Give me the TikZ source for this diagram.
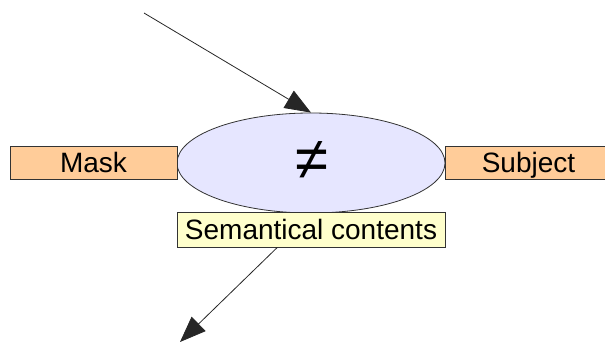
\documentclass[tikz,border=0pt]{standalone}
\usepackage{fontspec}
\setmainfont{Liberation Sans}
\usetikzlibrary{shapes.geometric,arrows.meta}
\definecolor{peach}{HTML}{FFCC99}
\definecolor{lilac}{HTML}{E6E6FF}
\definecolor{paleyellow}{HTML}{FFFFCC}
\definecolor{edge}{HTML}{333333}
\tikzset{
  box/.style={draw=edge,line width=0.8pt,rectangle,inner sep=0pt,font=\fontsize{28}{30}\selectfont,text height=20pt,text depth=0pt},
  sidebox/.style={box,fill=peach,minimum width=167pt,minimum height=33pt},
  conn/.style={draw=black!85,line width=0.8pt,-{Triangle[length=26pt,width=20pt]}}
}
\begin{document}
\begin{tikzpicture}[x=1pt,y=-1pt]
\useasboundingbox (0,0) rectangle (605,343);
\clip (0,0) rectangle (605,343);
\node[ellipse,draw=edge,line width=0.8pt,fill=lilac,minimum width=268pt,minimum height=100pt,inner sep=0pt] (eq) at (311,163) {};
\node[font=\fontsize{60}{60}\selectfont,inner sep=0pt] (neq) at (312,161) {≠};
\node[sidebox] (mask) at (93.5,162.5) {Mask};
\node[sidebox] (subject) at (528.5,162.5) {Subject};
\node[box,fill=paleyellow,minimum width=268pt,minimum height=35pt] (sem) at (311,229.5) {Semantical contents};
\coordinate (src) at (144,13);
\coordinate (dst) at (180,342);
\draw[conn] (src) -- (eq.north);
\draw[conn] (sem.208) -- (dst);
\end{tikzpicture}
\end{document}
